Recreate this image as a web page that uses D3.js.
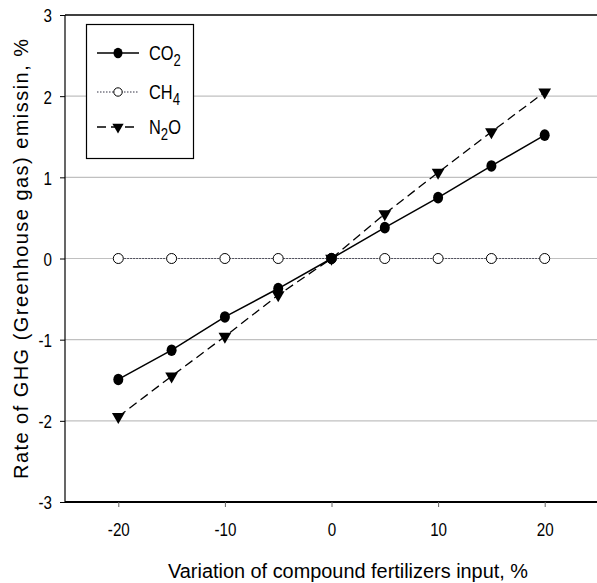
<!DOCTYPE html>
<html><head><meta charset="utf-8">
<script src="https://cdn.jsdelivr.net/npm/d3@7"></script>
<style>body{margin:0;background:#fff}svg{display:block}</style>
</head><body><svg id="c" width="597" height="583"></svg>
<script>
const xValues = [-20, -15, -10, -5, 0, 5, 10, 15, 20];
const co2 = [-1.49, -1.13, -0.72, -0.37, 0, 0.38, 0.75, 1.14, 1.52];
const ch4 = [0, 0, 0, 0, 0, 0, 0, 0, 0];
const n2o = [-1.95, -1.45, -0.96, -0.45, 0, 0.55, 1.06, 1.56, 2.05];
const xTicks = [-20, -10, 0, 10, 20];
const yTicks = [-3, -2, -1, 0, 1, 2, 3];

const font = "'Liberation Sans',Arial,sans-serif";
const sx = 0.8;
const svg = d3.select("#c");
const x = d3.scaleLinear().domain([-25, 25]).range([65, 598]);
const y = d3.scaleLinear().domain([-3, 3]).range([502, 15]);

// gridlines
svg.append("g").selectAll("line").data(yTicks.filter(d => d > -3 && d < 3)).join("line")
  .attr("x1", 65).attr("x2", 597).attr("y1", d => y(d)).attr("y2", d => y(d))
  .attr("stroke", "#c0c0c0").attr("stroke-width", 1.2);
// top frame
svg.append("line").attr("x1", 65).attr("x2", 597).attr("y1", y(3)).attr("y2", y(3))
  .attr("stroke", "#000").attr("stroke-width", 1.5);

const xAxis = svg.append("g").attr("transform", `translate(0,${y(-3)})`)
  .call(d3.axisBottom(x).tickValues(xTicks).tickSize(5).tickPadding(9).tickFormat(d => String(d)));
xAxis.select(".domain").attr("stroke-width", 2).attr("d", "M65,0H597");
xAxis.selectAll(".tick line").attr("stroke", "#666");
xAxis.selectAll("text").attr("font-family", font).attr("font-size", 19).attr("fill", "#000")
  .attr("dy", null).attr("y", 34).attr("transform", `scale(${sx},1)`);

const yAxis = svg.append("g").attr("transform", `translate(${x(-25)},0)`)
  .call(d3.axisLeft(y).tickValues(yTicks).tickSize(5).tickPadding(7).tickFormat(d => String(d)));
yAxis.select(".domain").attr("stroke-width", 1.2).attr("d", `M0,${y(3)}V${y(-3)}`);
yAxis.selectAll("text").attr("font-family", font).attr("font-size", 19).attr("fill", "#000")
  .attr("x", -13 / sx).attr("dy", "0.36em").attr("transform", `scale(${sx},1)`);

// axis titles
svg.append("text").attr("x", 348).attr("y", 578).attr("text-anchor", "middle")
  .attr("font-family", font).attr("font-size", 20)
  .attr("textLength", 360).attr("lengthAdjust", "spacingAndGlyphs")
  .text("Variation of compound fertilizers input, %");
svg.append("text").attr("transform", "translate(28,259) rotate(-90)").attr("text-anchor", "middle")
  .attr("font-family", font).attr("font-size", 20)
  .attr("textLength", 440).attr("lengthAdjust", "spacing")
  .text("Rate of GHG (Greenhouse gas) emissin, %");

const line = d3.line().x(d => x(d[0])).y(d => y(d[1]));
const pts = arr => xValues.map((v, i) => [v, arr[i]]);
const tri = d3.symbol().type(d3.symbolTriangle).size(70);

// CH4
svg.append("path").attr("d", line(pts(ch4))).attr("fill", "none").attr("stroke", "#334").attr("stroke-width", 1).attr("stroke-dasharray", "1.5,1.5");
svg.append("g").selectAll("circle").data(pts(ch4)).join("circle")
  .attr("cx", d => x(d[0])).attr("cy", d => y(d[1])).attr("r", 5).attr("fill", "#fff").attr("stroke", "#000").attr("stroke-width", 1);
// N2O
svg.append("path").attr("d", line(pts(n2o))).attr("fill", "none").attr("stroke", "#000").attr("stroke-width", 1.3).attr("stroke-dasharray", "9,5");
svg.append("g").selectAll("path").data(pts(n2o)).join("path")
  .attr("d", tri).attr("transform", d => `translate(${x(d[0])},${y(d[1])}) rotate(180)`).attr("fill", "#000");
// CO2
svg.append("path").attr("d", line(pts(co2))).attr("fill", "none").attr("stroke", "#000").attr("stroke-width", 1.5);
svg.append("g").selectAll("ellipse").data(pts(co2)).join("ellipse")
  .attr("cx", d => x(d[0])).attr("cy", d => y(d[1])).attr("rx", 5).attr("ry", 5.8).attr("fill", "#000");

// legend
const lg = svg.append("g");
lg.append("rect").attr("x", 86.5).attr("y", 24.5).attr("width", 107).attr("height", 134)
  .attr("fill", "#fff").attr("stroke", "#000").attr("stroke-width", 1.2);
const rows = [
  {name: "CO", sub: "2", yy: 53},
  {name: "CH", sub: "4", yy: 92},
  {name: "N", sub: "2", after: "O", yy: 127}
];
lg.append("line").attr("x1", 97).attr("x2", 139).attr("y1", 53).attr("y2", 53).attr("stroke", "#000").attr("stroke-width", 1.5);
lg.append("ellipse").attr("cx", 118).attr("cy", 53).attr("rx", 4.5).attr("ry", 5.3).attr("fill", "#000");
lg.append("line").attr("x1", 97).attr("x2", 139).attr("y1", 92).attr("y2", 92).attr("stroke", "#334").attr("stroke-dasharray", "1.5,1.5");
lg.append("circle").attr("cx", 118).attr("cy", 92).attr("r", 4.2).attr("fill", "#fff").attr("stroke", "#000");
lg.append("line").attr("x1", 97).attr("x2", 139).attr("y1", 127).attr("y2", 127).attr("stroke", "#000").attr("stroke-width", 1.3).attr("stroke-dasharray", "9,5");
lg.append("path").attr("d", d3.symbol().type(d3.symbolTriangle).size(55)).attr("transform", "translate(118,127) rotate(180)").attr("fill", "#000");

rows.forEach(r => {
  const t = lg.append("text").attr("transform", `translate(149,${r.yy + 7}) scale(0.82,1)`)
    .attr("font-family", font).attr("font-size", 20);
  t.append("tspan").text(r.name);
  t.append("tspan").attr("dy", 6).attr("font-size", 16).text(r.sub);
  if (r.after) t.append("tspan").attr("dy", -6).text(r.after);
});
</script></body></html>
